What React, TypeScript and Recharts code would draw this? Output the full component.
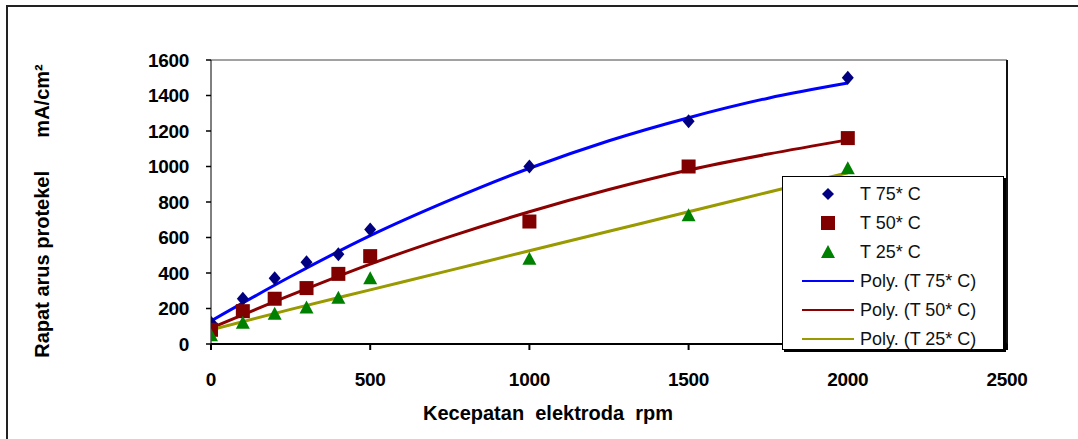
import React from 'react';
import {
  ComposedChart,
  XAxis,
  YAxis,
  Scatter,
  Line,
  ReferenceLine,
} from 'recharts';

// ── data ───────────────────────────────────────────────

const rpm = [0, 100, 200, 300, 400, 500, 1000, 1500, 2000];
const t75 = [120, 255, 370, 460, 505, 645, 1000, 1255, 1500];
const t50 = [80, 185, 255, 315, 395, 495, 690, 1000, 1160];
const t25 = [50, 120, 170, 205, 260, 370, 480, 725, 990];

// trend lines (Excel polynomial fit), read at 250 rpm steps
const fitRpm = [0, 250, 500, 750, 1000, 1250, 1500, 1750, 2000];
const fit75 = [130, 380, 610, 810, 990, 1145, 1275, 1385, 1470];
const fit50 = [90, 275, 450, 605, 745, 870, 980, 1070, 1150];
const fit25 = [80, 195, 305, 415, 525, 635, 745, 855, 965];

const xTicks = [0, 500, 1000, 1500, 2000, 2500];
const yTicks = [0, 200, 400, 600, 800, 1000, 1200, 1400, 1600];

const toPoints = (xs: number[], ys: number[]) => xs.map((x, i) => ({ x, y: ys[i] }));

const FONT = '"Liberation Sans", Arial, Helvetica, sans-serif';

const C75 = '#000080';
const C50 = '#800000';
const C25 = '#008000';
const L75 = '#0000ff';
const L50 = '#8b0000';
const L25 = '#999900';

const tickStyle = { fill: '#000', fontSize: 19, fontWeight: 'bold' as const, fontFamily: FONT, letterSpacing: -0.3 };

// ── marker shapes ─────────────────────────────────────

// eslint-disable-next-line @typescript-eslint/no-explicit-any
const Diamond = ({ cx, cy }: any) => (
  <polygon points={`${cx},${cy - 7} ${cx + 6},${cy} ${cx},${cy + 7} ${cx - 6},${cy}`} fill={C75} />
);
// eslint-disable-next-line @typescript-eslint/no-explicit-any
const Square = ({ cx, cy }: any) => (
  <rect x={cx - 7} y={cy - 7} width={14} height={14} fill={C50} />
);
// eslint-disable-next-line @typescript-eslint/no-explicit-any
const Triangle = ({ cx, cy }: any) => (
  <polygon points={`${cx},${cy - 7} ${cx + 7},${cy + 6} ${cx - 7},${cy + 6}`} fill={C25} />
);

// ── legend ─────────────────────────────────────────────

const legendRows = [
  { label: 'T 75* C', kind: 'diamond', color: C75 },
  { label: 'T 50* C', kind: 'square', color: C50 },
  { label: 'T 25* C', kind: 'triangle', color: C25 },
  { label: 'Poly. (T 75* C)', kind: 'line', color: L75 },
  { label: 'Poly. (T 50* C)', kind: 'line', color: L50 },
  { label: 'Poly. (T 25* C)', kind: 'line', color: L25 },
];

const LegendIcon = ({ kind, color }: { kind: string; color: string }) => (
  <svg width={56} height={16} style={{ display: 'block' }}>
    {kind === 'diamond' && <polygon points="28,2 34,8 28,14 22,8" fill={color} />}
    {kind === 'square' && <rect x={21} y={1} width={14} height={14} fill={color} />}
    {kind === 'triangle' && <polygon points="28,1 35,14 21,14" fill={color} />}
    {kind === 'line' && <line x1={2} y1={8} x2={54} y2={8} stroke={color} strokeWidth={2} />}
  </svg>
);

const ChartLegend = () => (
  <div style={{
    position: 'absolute', left: 782, top: 176, width: 222, height: 174,
    background: '#fff', border: '1px solid #000', boxShadow: '2px 2px 0 #000',
    boxSizing: 'border-box', fontFamily: FONT, fontSize: 18, color: '#111',
  }}>
    {legendRows.map((r, i) => (
      <div key={r.label} style={{
        position: 'absolute', left: 17, top: 5 + i * 29, height: 24,
        display: 'flex', alignItems: 'center', whiteSpace: 'pre',
      }}>
        <LegendIcon kind={r.kind} color={r.color} />
        <span style={{ marginLeft: 4 }}>{r.label}</span>
      </div>
    ))}
  </div>
);

// ── main ──────────────────────────────────────────────

export default function App() {
  return (
    <div style={{ position: 'absolute', left: 0, top: 0, width: 1078, height: 439, background: '#fff', overflow: 'hidden' }}>
      {/* outer frame (top + left only visible) */}
      <div style={{
        position: 'absolute', left: 6, top: 5, width: 1200, height: 600,
        borderTop: '2px solid #222', borderLeft: '2px solid #222',
      }} />

      <ComposedChart
        width={1078}
        height={439}
        margin={{ top: 60, right: 71, left: 0, bottom: 0 }}
        style={{ position: 'absolute', left: 0, top: 0 }}
      >
        <XAxis
          type="number"
          dataKey="x"
          domain={[0, 2500]}
          ticks={xTicks}
          height={95}
          tick={tickStyle}
          tickSize={6}
          tickMargin={23}
          axisLine={{ stroke: '#000', strokeWidth: 2 }}
          tickLine={{ stroke: '#000', strokeWidth: 2 }}
          allowDataOverflow
        />
        <YAxis
          type="number"
          dataKey="y"
          domain={[0, 1600]}
          ticks={yTicks}
          width={211}
          tick={tickStyle}
          tickSize={5}
          tickMargin={17}
          axisLine={{ stroke: '#000', strokeWidth: 1 }}
          tickLine={{ stroke: '#000', strokeWidth: 1.5 }}
          allowDataOverflow
        />

        {/* plot area frame: top and right */}
        <ReferenceLine y={1600} stroke="#444" strokeWidth={1} ifOverflow="visible" />
        <ReferenceLine x={2500} stroke="#111" strokeWidth={2} ifOverflow="visible" />

        <Scatter name="T 75* C" data={toPoints(rpm, t75)} fill={C75} shape={<Diamond />} isAnimationActive={false} />
        <Scatter name="T 50* C" data={toPoints(rpm, t50)} fill={C50} shape={<Square />} isAnimationActive={false} />
        <Scatter name="T 25* C" data={toPoints(rpm, t25)} fill={C25} shape={<Triangle />} isAnimationActive={false} />

        <Line name="Poly. (T 75* C)" data={toPoints(fitRpm, fit75)} dataKey="y" type="monotone"
          stroke={L75} strokeWidth={3} dot={false} activeDot={false} isAnimationActive={false} />
        <Line name="Poly. (T 50* C)" data={toPoints(fitRpm, fit50)} dataKey="y" type="monotone"
          stroke={L50} strokeWidth={3} dot={false} activeDot={false} isAnimationActive={false} />
        <Line name="Poly. (T 25* C)" data={toPoints(fitRpm, fit25)} dataKey="y" type="monotone"
          stroke={L25} strokeWidth={3} dot={false} activeDot={false} isAnimationActive={false} />
      </ComposedChart>

      {/* axis titles */}
      <div style={{
        position: 'absolute', left: 548, top: 413, transform: 'translate(-50%, -50%)',
        fontFamily: FONT, fontSize: 20, fontWeight: 'bold', whiteSpace: 'pre', color: '#000',
      }}>
        {'Kecepatan  elektroda  rpm'}
      </div>
      <div style={{
        position: 'absolute', left: 42, top: 211, transform: 'translate(-50%, -50%) rotate(-90deg)',
        fontFamily: FONT, fontSize: 20, fontWeight: 'bold', whiteSpace: 'pre', color: '#000',
      }}>
        {'Rapat arus protekel      mA/cm²'}
      </div>

      <ChartLegend />
    </div>
  );
}
